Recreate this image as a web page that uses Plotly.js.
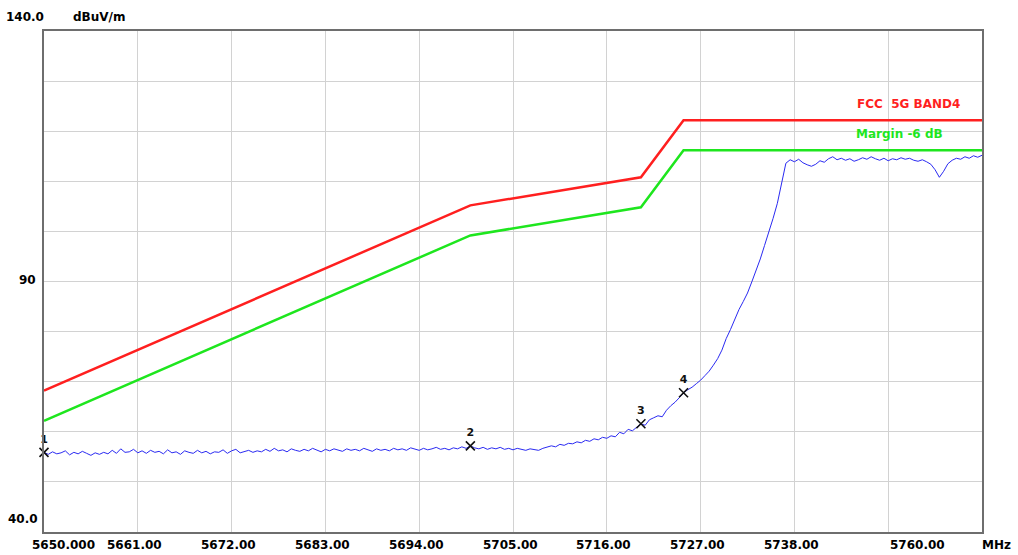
<!DOCTYPE html>
<html>
<head>
<meta charset="utf-8">
<script src="https://cdn.plot.ly/plotly-3.0.1.min.js"></script>
<style>
html,body{margin:0;padding:0;background:#fff;}
#chart{width:1018px;height:555px;}
</style>
</head>
<body>
<div id="chart"></div>
<script>
// ---- data ----
const sweepStart = 5650;      // MHz
const sweepStep = 0.5;        // MHz between trace samples
const traceLevel = [
55.9,55.5,56.0,55.6,55.8,56.2,55.4,55.9,55.6,56.1,
55.7,55.3,55.8,55.5,55.9,55.6,56.3,55.7,56.6,55.9,
56.0,56.5,55.8,56.2,55.7,56.3,55.9,56.1,55.6,56.4,
55.8,56.0,55.5,56.2,55.9,55.7,56.3,55.8,56.1,55.6,
56.0,55.9,56.4,55.7,56.2,56.5,55.8,56.1,56.3,55.9,
56.2,56.0,56.5,56.1,56.7,56.2,56.4,56.0,56.6,56.3,
56.1,56.5,56.2,56.7,56.3,56.0,56.5,56.2,56.6,56.4,
56.1,56.6,56.3,56.5,56.2,56.7,56.4,56.1,56.6,56.3,
56.5,56.2,56.7,56.4,56.6,56.3,56.8,56.5,56.3,56.7,
56.4,56.6,56.9,56.5,56.7,56.4,56.8,56.6,57.0,56.7,
57.2,56.8,56.6,56.9,56.5,56.8,56.6,56.9,56.5,56.7,
56.4,56.7,56.5,56.3,56.6,56.4,56.3,56.7,56.9,57.2,
57.0,57.5,57.3,57.7,57.6,58.0,57.8,58.3,58.1,58.6,
58.4,58.9,58.7,59.2,59.0,59.9,59.6,60.5,60.2,61.0,
61.6,61.3,62.4,62.8,63.2,63.0,64.3,65.2,65.9,66.8,
67.8,68.4,68.9,69.6,70.3,71.2,72.1,73.3,74.6,76.3,
78.6,80.4,82.5,84.4,86.0,87.7,89.9,92.1,94.5,97.2,
99.8,102.6,105.6,109.5,113.6,114.3,113.9,114.4,113.7,113.3,
113.0,113.4,114.1,113.8,114.5,114.9,114.3,114.6,114.2,114.5,
114.0,114.3,114.7,114.4,114.9,114.5,114.2,114.6,114.1,114.5,
114.3,114.7,114.4,114.6,114.2,114.0,114.3,113.9,113.4,112.3,
110.8,112.0,113.5,114.2,114.6,114.4,114.9,114.6,115.1,114.8,
115.2
];
const limitFreq = [5650, 5700, 5720, 5725, 5760];
const limitFCC = [68.2, 105.2, 110.8, 122.2, 122.2];
const limitMargin = [62.2, 99.2, 104.8, 116.2, 116.2];
const markerFreq = [5650, 5700, 5720, 5725];
const markerLevel = [55.9, 57.2, 61.6, 67.8];
const markerNames = ['1', '2', '3', '4'];
const xTickVals = [5650, 5661, 5672, 5683, 5694, 5705, 5716, 5727, 5738, 5760];
const xTickText = ['5650.000', '5661.00', '5672.00', '5683.00', '5694.00', '5705.00', '5716.00', '5727.00', '5738.00', '5760.00'];
const yTickVals = [140, 90, 40];
const yTickText = ['140.0', '90', '40.0'];
const xUnit = 'MHz';
const yUnit = 'dBuV/m';
const limitName = 'FCC\u00a0 5G BAND4';
const marginName = 'Margin -6 dB';

// sweep frequency axis
const traceFreq = traceLevel.map((_, i) => sweepStart + i * sweepStep);

const lblFont = {family: 'DejaVu Sans', size: 12, color: '#000', weight: 'bold'};

const traces = [
  {x: limitFreq, y: limitFCC, mode: 'lines', line: {color: '#ff1f1f', width: 2.5}, hoverinfo: 'skip'},
  {x: limitFreq, y: limitMargin, mode: 'lines', line: {color: '#1ee61e', width: 2.5}, hoverinfo: 'skip'},
  {x: traceFreq, y: traceLevel, mode: 'lines', line: {color: '#2a2af2', width: 1}, hoverinfo: 'skip'},
  {x: markerFreq, y: markerLevel, mode: 'markers+text', text: markerNames, textposition: 'top center',
   textfont: {family: 'DejaVu Sans', size: 11, color: '#111', weight: 'bold'},
   marker: {symbol: 'x-thin-open', size: 9, color: '#111', line: {color: '#111', width: 1.6}}, cliponaxis: false, hoverinfo: 'skip'}
];

const annotations = [];
xTickVals.forEach((v, i) => {
  const first = i === 0, last = i === xTickVals.length - 1;
  annotations.push({x: v, xref: 'x', y: 0, yref: 'paper', text: xTickText[i], showarrow: false,
    xanchor: first ? 'left' : (last ? 'right' : 'center'), yanchor: 'middle',
    xshift: first ? -14 : (last ? -35 : -3), yshift: -13, font: lblFont});
});
annotations.push({x: 1, xref: 'paper', y: 0, yref: 'paper', text: xUnit, showarrow: false,
  xanchor: 'left', yanchor: 'middle', xshift: -2, yshift: -13, font: lblFont});
const yShifts = [[2, 14], [-6, 2], [-4, 13]];
yTickVals.forEach((v, i) => {
  annotations.push({x: 0, xref: 'paper', y: v, yref: 'y', text: yTickText[i], showarrow: false,
    xanchor: 'right', yanchor: 'middle', xshift: yShifts[i][0], yshift: yShifts[i][1], font: lblFont});
});
annotations.push({x: 0, xref: 'paper', y: 1, yref: 'paper', text: yUnit, showarrow: false,
  xanchor: 'left', yanchor: 'middle', xshift: 27, yshift: 14, font: lblFont});
annotations.push({x: 1, xref: 'paper', y: limitFCC[limitFCC.length - 1], yref: 'y', text: limitName, showarrow: false,
  xanchor: 'right', yanchor: 'middle', xshift: -20, yshift: 16, font: Object.assign({}, lblFont, {color: '#ff1f1f'})});
annotations.push({x: 1, xref: 'paper', y: limitMargin[limitMargin.length - 1], yref: 'y', text: marginName, showarrow: false,
  xanchor: 'right', yanchor: 'middle', xshift: -37, yshift: 16, font: Object.assign({}, lblFont, {color: '#1ee61e'})});

const layout = {
  width: 1018, height: 555,
  margin: {l: 44, r: 36, t: 31, b: 23, pad: 0},
  paper_bgcolor: '#fff', plot_bgcolor: '#fff',
  showlegend: false,
  xaxis: {range: [5650, 5760], tick0: 5650, dtick: 11, showgrid: true, gridcolor: '#d2d2d2', gridwidth: 1,
    showticklabels: false, ticks: '', zeroline: false, showline: true, mirror: true, linecolor: '#6e6e6e', linewidth: 2, fixedrange: true},
  yaxis: {range: [40, 140], tick0: 40, dtick: 10, showgrid: true, gridcolor: '#d2d2d2', gridwidth: 1,
    showticklabels: false, ticks: '', zeroline: false, showline: true, mirror: true, linecolor: '#6e6e6e', linewidth: 2, fixedrange: true},
  annotations: annotations
};

Plotly.newPlot('chart', traces, layout, {displayModeBar: false, staticPlot: true});
</script>
</body>
</html>
